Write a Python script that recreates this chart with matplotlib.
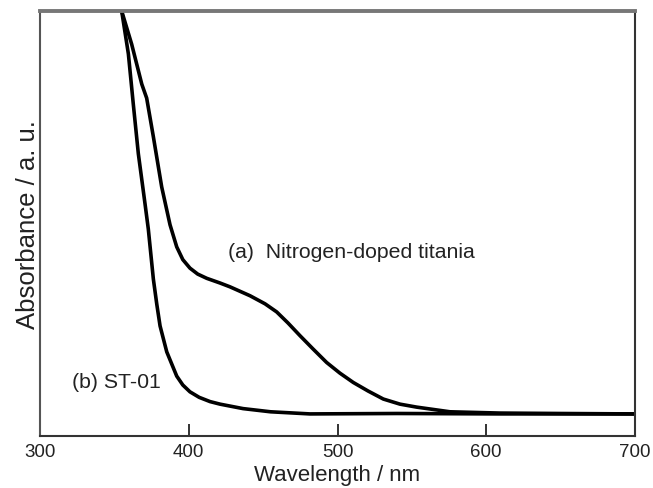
import numpy as np
import matplotlib
matplotlib.use("Agg")
import matplotlib.pyplot as plt

plt.rcParams['font.family'] = ['Liberation Sans', 'DejaVu Sans']

# curve (a) nitrogen-doped titania
wl_a = [354.9, 361.6, 368.4, 371.7, 376.2, 381.8, 387.4, 391.9, 396.0, 400.8,
        406.0, 412.1, 421.0, 427.7, 441.2, 451.3, 459.1, 466.7, 474.8, 483.5,
        492.7, 501.6, 510.6, 520.5, 530.8, 542.0, 553.2, 575.6, 609.2, 650,
        700]
abs_a = [1.0, 0.922, 0.828, 0.795, 0.704, 0.586, 0.497, 0.445, 0.415, 0.395,
         0.381, 0.371, 0.360, 0.351, 0.330, 0.311, 0.292, 0.266, 0.236, 0.205,
         0.173, 0.148, 0.126, 0.106, 0.087, 0.075, 0.068, 0.057, 0.054, 0.053,
         0.052]

# curve (b) ST-01
wl_b = [354.9, 359.4, 362.7, 366.1, 370.6, 372.8, 376.2, 378.5, 380.7, 385.2,
        391.9, 396.0, 400.8, 407.0, 414.3, 421.0, 436.5, 455, 481.5, 540, 610,
        700]
abs_b = [1.0, 0.899, 0.781, 0.664, 0.546, 0.487, 0.369, 0.31, 0.259, 0.198,
         0.141, 0.120, 0.104, 0.091, 0.081, 0.075, 0.0645, 0.057, 0.052, 0.053,
         0.052, 0.052]

xticks = [300, 400, 500, 600, 700]

fig = plt.figure(figsize=(6.53, 4.89), dpi=100)
ax = fig.add_axes([0.0613, 0.1063, 0.9111, 0.8692])

ax.plot(wl_a, abs_a, color='black', lw=2.6, solid_joinstyle='round')
ax.plot(wl_b, abs_b, color='black', lw=2.6, solid_joinstyle='round')

ax.set_xlim(300, 700)
ax.set_ylim(0, 1)
ax.set_xticks(xticks)
ax.set_yticks([])
ax.tick_params(axis='x', direction='in', length=9, width=1.3, labelsize=13.5,
               pad=5, colors='#222222')
for s in ax.spines.values():
    s.set_color('#333333')
    s.set_linewidth(1.5)
ax.spines['top'].set_color('#777777')
ax.spines['top'].set_linewidth(2.8)
ax.spines['left'].set_color('#555555')

ax.set_xlabel('Wavelength / nm', fontsize=16, labelpad=3, color='#222222')
ax.set_ylabel('Absorbance / a. u.', fontsize=18.5, labelpad=0, color='#222222')

ax.text(426.4, 0.433, '(a)  Nitrogen-doped titania', fontsize=15.3,
        va='center', color='#222222')
ax.text(321.5, 0.129, '(b) ST-01', fontsize=15.3, va='center',
        color='#222222')

fig.savefig('out.png', dpi=100)
